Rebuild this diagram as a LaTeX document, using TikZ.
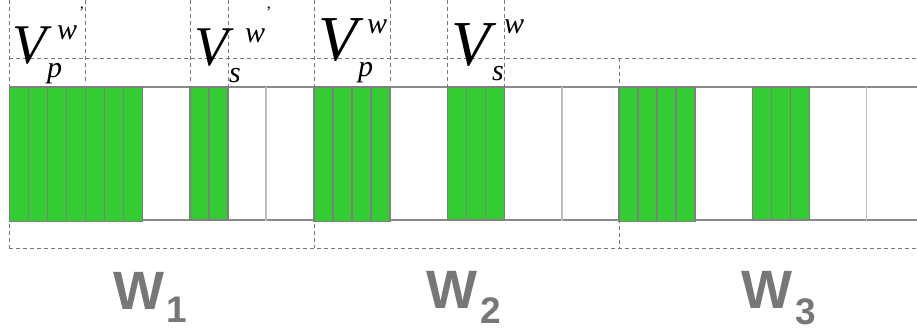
\documentclass[tikz,border=0pt]{standalone}
\usepackage{fontspec}
\setmainfont{Liberation Serif}
\newfontfamily\wfont{Liberation Sans}
\usetikzlibrary{positioning}

\definecolor{cellgreen}{HTML}{33CC33}
\definecolor{cellborder}{HTML}{7F7F7F}
\definecolor{railgray}{HTML}{8A8A8A}
\definecolor{slotgray}{HTML}{BDBDBD}
\definecolor{guidegray}{HTML}{7A7A7A}
\definecolor{wgray}{HTML}{777777}

\begin{document}
\begin{tikzpicture}[x=1pt,y=-1pt,
    cell/.style={fill=cellgreen, draw=cellborder, line width=1.4pt},
    rail/.style={draw=railgray, line width=1.2pt},
    slot/.style={draw=slotgray, line width=1.6pt},
    guide/.style={draw=guidegray, line width=0.9pt, dash pattern=on 4pt off 3pt},
    bigv/.style={font=\fontsize{56}{60}\selectfont\itshape, anchor=base west, inner sep=0pt},
    smallv/.style={font=\fontsize{30}{32}\selectfont\itshape, anchor=base west, inner sep=0pt},
    prm/.style={font=\fontsize{16}{16}\selectfont, anchor=base west, inner sep=0pt},
    wname/.style={font=\wfont\bfseries\fontsize{54}{56}\selectfont, text=wgray, anchor=base west, inner sep=0pt},
    wsub/.style={font=\wfont\bfseries\fontsize{37}{38}\selectfont, text=wgray, anchor=base west, inner sep=0pt}]

    \useasboundingbox (0,0) rectangle (917,332);

    % dashed guides
    \foreach \x/\yend in {9.3/248.3, 85.7/82, 190/82, 228.3/86, 314/248.3, 390.7/82, 447.7/86, 504/86}
        \draw[guide] (\x,0) -- (\x,\yend);
    \draw[guide] (619,58.3) -- (619,248.3);
    \draw[guide] (9.3,58.3) -- (917,58.3);
    \draw[guide] (9.3,248.3) -- (917,248.3);

    % rails and empty slots
    \draw[rail] (9.3,87) -- (917,87);
    \draw[rail] (9.3,220) -- (917,220);
    \foreach \x in {266, 561.7, 866.5}
        \draw[slot] (\x,87) -- (\x,221);

    % green cells
    \foreach \x/\n/\b in {9.3/7/221.5, 190/2/220, 314/4/221.5, 447.7/3/220, 619/4/221.5, 752.3/3/220}
        \foreach \i in {1,...,\n}
            \draw[cell] ({\x+(\i-1)*19},87) rectangle ++(19,{\b-87});

    % labels
    \node[bigv] (vp1) at (12,63) {V};
    \node[smallv] (wp1) at (57,39) {w};
    \node[prm] (pp1) at (79,17) {'};
    \node[smallv] (sp1) at (47,77) {p};

    \node[bigv] (vs1) at (194,65) {V};
    \node[smallv] (ws1) at (245,42) {w};
    \node[prm] (ps1) at (266,17) {'};
    \node[smallv] (ss1) at (229,82) {s};

    \node[bigv, font=\fontsize{64}{66}\selectfont\itshape] (vp2) at (318,60) {V};
    \node[smallv] (wp2) at (367,33) {w};
    \node[smallv] (sp2) at (358,76) {p};

    \node[bigv, font=\fontsize{64}{66}\selectfont\itshape] (vs2) at (451,65) {V};
    \node[smallv] (ws2) at (504,33) {w};
    \node[smallv] (ss2) at (492,80) {s};

    \node[wname] (w1) at (113,309) {W};
    \node[wsub] (w1s) at (166,322) {1};
    \node[wname] (w2) at (426,308) {W};
    \node[wsub] (w2s) at (480,323) {2};
    \node[wname] (w3) at (741,308) {W};
    \node[wsub] (w3s) at (795,324) {3};

\end{tikzpicture}
\end{document}
